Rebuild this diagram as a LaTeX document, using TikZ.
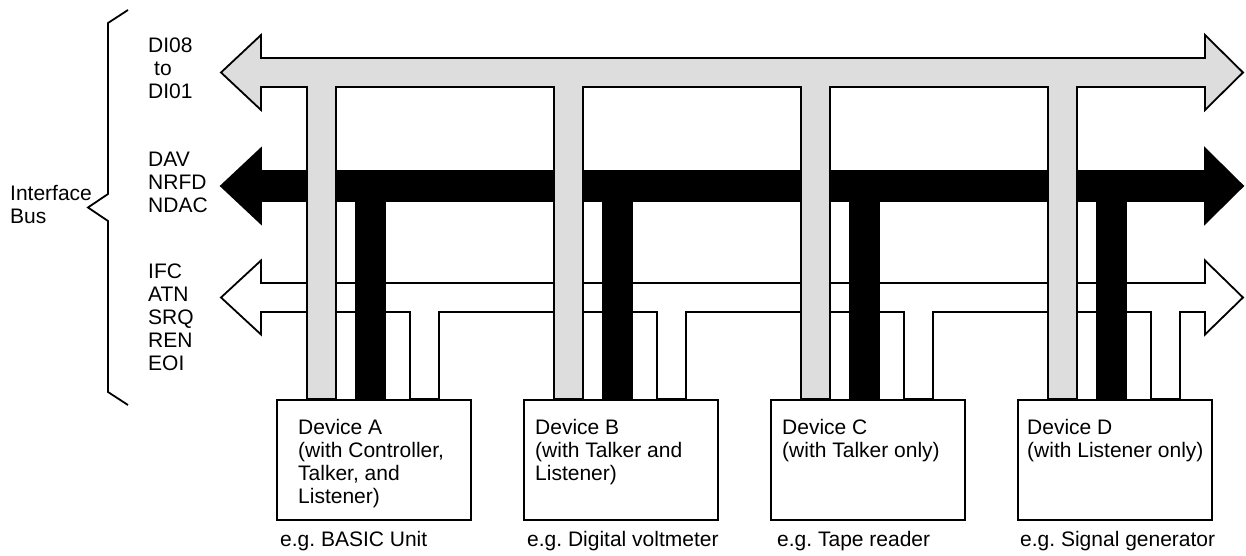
\documentclass[tikz,border=0pt]{standalone}
\usepackage{fontspec}
\setmainfont{Liberation Sans}
\definecolor{busgray}{RGB}{221,221,221}
\frenchspacing
\begin{document}
\begin{tikzpicture}[x=1pt,y=-1pt,
  busline/.style={line width=1.8pt, line join=miter},
  lightbus/.style={busline, draw=black, fill=busgray},
  blackbus/.style={busline, draw=black, fill=black},
  whitebus/.style={busline, draw=black, fill=white},
  devbox/.style={draw=black, line width=1.8pt, fill=white, rectangle, anchor=north west, minimum width=194pt, minimum height=120pt, inner sep=0pt},
  txt/.style={font=\fontsize{21}{23}\selectfont, inner sep=0pt, align=left},
  brace/.style={line width=1.8pt, line join=miter}
]
\useasboundingbox (0,0) rectangle (1246,556);

% white bus (IFC ... EOI) with stems
\path[whitebus] (221,297.5) -- (261,260.5) -- (261,283) -- (1205,283) -- (1205,260.5) -- (1243,297.5) -- (1205,334.5) -- (1205,312)
  -- (1180,312) -- (1180,399) -- (1151,399) -- (1151,312)
  -- (933,312) -- (933,399) -- (904,399) -- (904,312)
  -- (686,312) -- (686,399) -- (657,399) -- (657,312)
  -- (439,312) -- (439,399) -- (410,399) -- (410,312)
  -- (261,312) -- (261,334.5) -- cycle;

% black bus (DAV NRFD NDAC) with stems
\path[blackbus] (221,186) -- (261,148.5) -- (261,171) -- (1205,171) -- (1205,148.5) -- (1243,186) -- (1205,223.5) -- (1205,201)
  -- (1126,201) -- (1126,399) -- (1097,399) -- (1097,201)
  -- (879,201) -- (879,399) -- (850,399) -- (850,201)
  -- (632,201) -- (632,399) -- (603,399) -- (603,201)
  -- (385,201) -- (385,399) -- (356,399) -- (356,201)
  -- (261,201) -- (261,223.5) -- cycle;

% light bus (DI08 to DI01) with stems
\path[lightbus] (221,72.5) -- (261,35) -- (261,58) -- (1205,58) -- (1205,35) -- (1243,72.5) -- (1205,110) -- (1205,87)
  -- (1077,87) -- (1077,399) -- (1048,399) -- (1048,87)
  -- (830,87) -- (830,399) -- (801,399) -- (801,87)
  -- (583,87) -- (583,399) -- (554,399) -- (554,87)
  -- (336,87) -- (336,399) -- (307,399) -- (307,87)
  -- (261,87) -- (261,110) -- cycle;

% devices
\node[devbox] (devA) at (276,399) {};
\node[devbox] (devB) at (523,399) {};
\node[devbox] (devC) at (770,399) {};
\node[devbox] (devD) at (1017,399) {};

\node[txt, anchor=north west] (tA) at (298,419) {Device A\\(with Controller,\\Talker, and\\Listener)};
\node[txt, anchor=north west] (tB) at (535,419) {Device B\\(with Talker and\\Listener)};
\node[txt, anchor=north west] (tC) at (782,419) {Device C\\(with Talker only)};
\node[txt, anchor=north west] (tD) at (1027,419) {Device D\\(with Listener only)};

\node[txt, anchor=base west] (eA) at (280,546) {e.g. BASIC Unit};
\node[txt, anchor=base west] (eB) at (527,546) {e.g. Digital voltmeter};
\node[txt, anchor=base west] (eC) at (777,546) {e.g. Tape reader};
\node[txt, anchor=base west] (eD) at (1020,546) {e.g. Signal generator};

% bus labels
\node[txt, anchor=north west] (lDI) at (148,38) {DI08\\\hspace*{6pt}to\\DI01};
\node[txt, anchor=north west] (lHS) at (148,152) {DAV\\NRFD\\NDAC};
\node[txt, anchor=north west] (lMG) at (148,263.5) {IFC\\ATN\\SRQ\\REN\\EOI};

% brace and title
\draw[brace] (128,10) -- (108,23) -- (108,194) -- (88,207.5) -- (108,221) -- (108,392) -- (128,405);
\node[txt, anchor=north west] (ib) at (10,185) {Interface\\Bus};
\end{tikzpicture}
\end{document}
